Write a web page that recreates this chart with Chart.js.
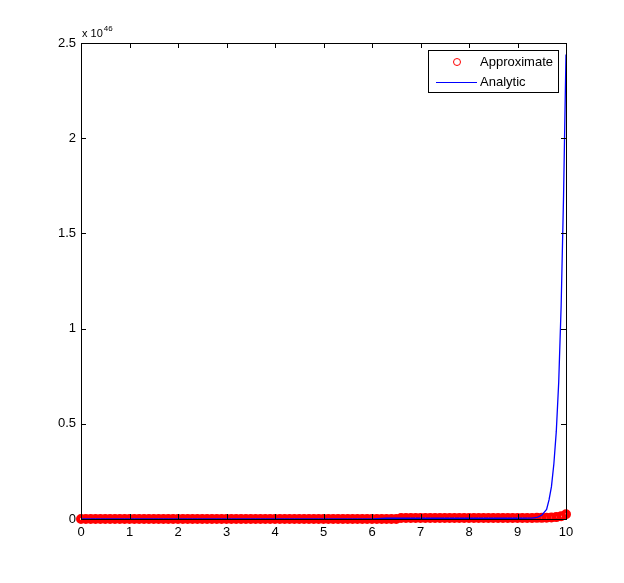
<!DOCTYPE html>
<html>
<head>
<meta charset="utf-8">
<script src="https://cdn.jsdelivr.net/npm/chart.js@4.4.1/dist/chart.umd.min.js"></script>
<style>
  body { margin: 0; background: #fff; }
</style>
</head>
<body>
<canvas id="plot" width="624" height="583"></canvas>
<script>
"use strict"

// y values are in units of 1e46
const seriesNames = ['Approximate', 'Analytic'];
const yExponent = '46';

const approxX = [
    0, 0.1, 0.2, 0.3, 0.4, 0.5, 0.6, 0.7, 0.8, 0.9,
    1, 1.1, 1.2, 1.3, 1.4, 1.5, 1.6, 1.7, 1.8, 1.9,
    2, 2.1, 2.2, 2.3, 2.4, 2.5, 2.6, 2.7, 2.8, 2.9,
    3, 3.1, 3.2, 3.3, 3.4, 3.5, 3.6, 3.7, 3.8, 3.9,
    4, 4.1, 4.2, 4.3, 4.4, 4.5, 4.6, 4.7, 4.8, 4.9,
    5, 5.1, 5.2, 5.3, 5.4, 5.5, 5.6, 5.7, 5.8, 5.9,
    6, 6.1, 6.2, 6.3, 6.4, 6.5, 6.6, 6.7, 6.8, 6.9,
    7, 7.1, 7.2, 7.3, 7.4, 7.5, 7.6, 7.7, 7.8, 7.9,
    8, 8.1, 8.2, 8.3, 8.4, 8.5, 8.6, 8.7, 8.8, 8.9,
    9, 9.1, 9.2, 9.3, 9.4, 9.5, 9.6, 9.7, 9.8, 9.9,
    10
];
const approxY = [
    0, 0, 0, 0, 0, 0, 0, 0, 0, 0,
    0, 0, 0, 0, 0, 0, 0, 0, 0, 0,
    0, 0, 0, 0, 0, 0, 0, 0, 0, 0,
    0, 0, 0, 0, 0, 0, 0, 0, 0, 0,
    0, 0, 0, 0, 0, 0, 0, 0, 0, 0,
    0, 0, 0, 0, 0, 0, 0, 0, 0, 0,
    0, 0, 0, 0, 0, 0, 0.005, 0.005, 0.005, 0.005,
    0.005, 0.005, 0.005, 0.005, 0.005, 0.005, 0.005, 0.005, 0.005, 0.005,
    0.005, 0.005, 0.005, 0.005, 0.005, 0.005, 0.005, 0.005, 0.005, 0.005,
    0.005, 0.005, 0.005, 0.005, 0.006, 0.006, 0.007, 0.008, 0.01, 0.015,
    0.025
];

const analyticX = [0, 1, 2, 3, 4, 5, 6, 6.3, 7, 8, 9, 9.3, 9.4, 9.5, 9.6, 9.65, 9.7, 9.75, 9.8, 9.85, 9.9, 9.95, 9.98, 10];
const analyticY = [0, 0, 0, 0, 0, 0, 0, 0.004, 0.004, 0.004, 0.004, 0.005, 0.008, 0.02, 0.05, 0.1, 0.17, 0.29, 0.46, 0.72, 1.12, 1.7, 2.15, 2.44];

const toPoints = (xs, ys) => xs.map((x, i) => ({ x: x, y: ys[i] }));

const fontName = '"Liberation Sans", Arial, Helvetica, sans-serif';

// MATLAB style box, inward ticks, exponent label and legend
const matlabFrame = {
    id: 'matlabFrame',
    afterDraw(chart) {
        const ctx = chart.ctx;
        const a = chart.chartArea;
        const xs = chart.scales.x;
        const ys = chart.scales.y;
        const tick = 5;

        ctx.save();
        ctx.strokeStyle = '#000';
        ctx.lineWidth = 1;
        ctx.strokeRect(a.left + 0.5, a.top + 0.5, a.right - a.left, a.bottom - a.top);

        ctx.beginPath();
        xs.ticks.forEach(t => {
            const px = Math.round(xs.getPixelForValue(t.value)) + 0.5;
            ctx.moveTo(px, a.bottom);
            ctx.lineTo(px, a.bottom - tick);
            ctx.moveTo(px, a.top);
            ctx.lineTo(px, a.top + tick);
        });
        ys.ticks.forEach(t => {
            const py = Math.round(ys.getPixelForValue(t.value)) + 0.5;
            ctx.moveTo(a.left, py);
            ctx.lineTo(a.left + tick, py);
            ctx.moveTo(a.right, py);
            ctx.lineTo(a.right - tick, py);
        });
        ctx.stroke();

        // exponent
        ctx.fillStyle = '#000';
        ctx.textBaseline = 'alphabetic';
        ctx.textAlign = 'left';
        ctx.font = '11px ' + fontName;
        ctx.fillText('x 10', a.left + 1, a.top - 6);
        const w = ctx.measureText('x 10').width;
        ctx.font = '8px ' + fontName;
        ctx.fillText(yExponent, a.left + 2 + w, a.top - 12);

        // legend
        const lx = 428, ly = 50, lw = 130, lh = 42;
        ctx.fillStyle = '#fff';
        ctx.fillRect(lx, ly, lw, lh);
        ctx.strokeRect(lx + 0.5, ly + 0.5, lw, lh);

        ctx.font = '13px ' + fontName;
        ctx.textBaseline = 'middle';
        ctx.fillStyle = '#000';

        ctx.strokeStyle = '#ff0000';
        ctx.beginPath();
        ctx.arc(457, 62, 3.5, 0, Math.PI * 2);
        ctx.stroke();
        ctx.fillText(seriesNames[0], 480, 62);

        ctx.strokeStyle = '#0000ff';
        ctx.beginPath();
        ctx.moveTo(436, 82.5);
        ctx.lineTo(477, 82.5);
        ctx.stroke();
        ctx.fillText(seriesNames[1], 480, 82);

        ctx.restore();
    }
};

new Chart(document.getElementById('plot'), {
    type: 'scatter',
    data: {
        datasets: [{
            label: seriesNames[0],
            data: toPoints(approxX, approxY),
            showLine: false,
            pointStyle: 'circle',
            pointRadius: 3,
            pointBorderWidth: 4,
            pointBorderColor: '#ff0000',
            pointBackgroundColor: 'rgba(0,0,0,0)',
            clip: false,
            order: 2
        }, {
            label: seriesNames[1],
            data: toPoints(analyticX, analyticY),
            showLine: true,
            borderColor: '#0000ff',
            borderWidth: 1.3,
            pointRadius: 0,
            tension: 0,
            clip: false,
            order: 1
        }]
    },
    options: {
        responsive: false,
        animation: false,
        devicePixelRatio: 1,
        layout: { padding: { top: 43, right: 58, left: 0, bottom: 0 } },
        plugins: {
            legend: { display: false },
            tooltip: { enabled: false }
        },
        scales: {
            x: {
                type: 'linear',
                min: 0,
                max: 10,
                grid: { display: false, drawTicks: false },
                border: { display: false },
                ticks: {
                    stepSize: 1,
                    padding: 6,
                    color: '#000',
                    font: { family: fontName, size: 13 },
                    callback: v => String(v)
                },
                afterFit: scale => { scale.height = 64; }
            },
            y: {
                type: 'linear',
                min: 0,
                max: 2.5,
                grid: { display: false, drawTicks: false },
                border: { display: false },
                ticks: {
                    stepSize: 0.5,
                    padding: 5,
                    color: '#000',
                    font: { family: fontName, size: 13 },
                    callback: v => String(v)
                },
                afterFit: scale => { scale.width = 81; }
            }
        }
    },
    plugins: [matlabFrame]
});
</script>
</body>
</html>
